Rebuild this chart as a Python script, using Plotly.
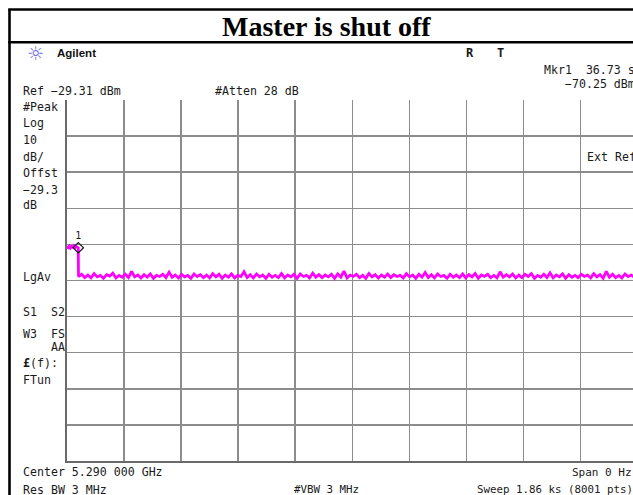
import numpy as np
import plotly.graph_objects as go

# ---------------- data ----------------
sweep_time_s = 1860.0          # Sweep 1.86 ks
ref_level_dbm = -29.31         # Ref level
db_per_div = 10

pre_drop_t = [0, 3.7, 7.4, 11, 14.7, 18.4, 22, 25.7, 29.4, 33, 36.7]
pre_drop_dbm = [-69.9, -70.2, -69.8, -70.3, -69.9, -70.1, -69.7, -70.2, -69.9, -70.1, -70.25]

noise_dbm = [
    -78.2, -77.6, -78.5, -77.8, -78.6, -77.4, -78.3, -77.9, -78.7, -77.7, -78.1, -77.3, -78.6, -77.9, -78.4, -77.6, -78.5, -76.8, -78.3, -77.8,
    -78.6, -77.7, -78.4, -77.5, -78.7, -77.9, -78.2, -77.6, -78.5, -77.0, -78.4, -77.8, -78.6, -77.6, -78.3, -77.9, -78.7, -77.5, -78.2, -77.7,
    -78.5, -77.8, -78.6, -77.4, -78.3, -77.6, -78.7, -77.8, -78.4, -77.5, -78.6, -77.9, -78.2, -76.9, -78.5, -77.7, -78.6, -77.5, -78.3, -77.8,
    -78.7, -77.6, -78.4, -77.9, -78.5, -77.4, -78.6, -77.8, -78.3, -77.6, -78.7, -77.5, -78.2, -77.9, -78.6, -77.3, -78.4, -77.7, -78.5, -77.8,
    -78.3, -77.6, -78.7, -77.5, -78.4, -76.7, -78.6, -77.8, -78.2, -77.6, -78.5, -77.9, -78.7, -77.4, -78.3, -77.7, -78.6, -77.8, -78.4, -77.5,
    -78.5, -77.7, -78.2, -77.9, -78.6, -77.4, -78.3, -77.8, -78.7, -77.6, -78.4, -77.1, -78.5, -77.7, -78.6, -77.5, -78.2, -77.9, -78.7, -77.6,
    -78.4, -77.8, -78.5, -77.5, -78.6, -77.7, -78.3, -77.4, -78.7, -77.8, -78.2, -77.6, -78.5, -77.9, -78.6, -76.9, -78.4, -77.7, -78.3, -77.5,
    -78.6, -77.8, -78.5, -77.6, -78.2, -77.4, -78.7, -77.9, -78.4, -77.6, -78.5, -77.2, -78.6, -77.8, -78.3, -77.5, -78.7, -77.7, -78.4, -77.9,
    -78.5, -77.6, -78.2, -77.8, -78.6, -77.4, -78.3, -77.7, -78.7, -76.8, -78.4, -77.6, -78.5, -77.9, -78.6, -77.5, -78.2, -77.8, -78.4, -77.6,
]
noise_t = np.linspace(37.5, sweep_time_s, len(noise_dbm))

marker_t = [36.73]
marker_dbm = [-70.25]
marker_label = ["1"]

# ---------------- figure ----------------
W, H = 633, 495
L, T, B = 67, 100, 34
PW, PH = W - L, H - T - B

def px(x):
    return (x - L) / PW

def py(y):
    return (H - B - y) / PH

t_all = list(pre_drop_t) + list(noise_t)
v_all = list(pre_drop_dbm) + list(noise_dbm)

fig = go.Figure()
fig.add_trace(go.Scatter(
    x=t_all, y=v_all, mode="lines",
    line=dict(color="#ff00ff", width=2.8),
    hoverinfo="skip", showlegend=False,
))
fig.add_trace(go.Scatter(
    x=marker_t, y=marker_dbm, mode="markers+text",
    text=marker_label, textposition="top center",
    textfont=dict(family="DejaVu Sans Mono", size=10, color="#1a1a1a"),
    marker=dict(symbol="diamond-open", size=8, color="#1a1a1a", line=dict(width=1.2)),
    hoverinfo="skip", showlegend=False,
))

x_end = sweep_time_s * PW / 570.5
fig.update_xaxes(
    range=[0, x_end], tick0=0, dtick=sweep_time_s / 10,
    showgrid=True, gridcolor="#8c8c8c", gridwidth=1.5,
    showticklabels=False, ticks="", zeroline=False,
    showline=True, linecolor="#6a6a6a", linewidth=2, mirror=False,
)
fig.update_yaxes(
    range=[ref_level_dbm - 10 * db_per_div, ref_level_dbm], tick0=ref_level_dbm, dtick=db_per_div,
    showgrid=True, gridcolor="#8c8c8c", gridwidth=1.5,
    showticklabels=False, ticks="", zeroline=False,
    showline=True, linecolor="#6a6a6a", linewidth=2, mirror=False,
)

MONO = "DejaVu Sans Mono"
TXT = "#1a1a1a"
ann = []

def label(text, x, y, anchor="left", size=11.6, family=MONO, color=TXT):
    ann.append(dict(
        text=text, x=px(x), y=py(y), xref="paper", yref="paper",
        xanchor=anchor, yanchor="middle", showarrow=False,
        font=dict(family=family, size=size, color=color),
        borderpad=0, borderwidth=0,
    ))

# title
label("<b>Master is shut off</b>", 326, 27, anchor="center", size=28,
      family="Liberation Serif", color="#000000")

# header
label("☼", 35, 53, anchor="center", size=19, family="DejaVu Sans", color="#6b6be0")
label("<b>Agilent</b>", 57, 53, size=11.5, family="Liberation Sans", color="#111111")
label("<b>R</b>", 466, 53, size=12)
label("<b>T</b>", 497, 53, size=12)
label("Mkr1  36.73 s", 544, 70)
label("−70.25 dBm", 565, 84)
label("Ref −29.31 dBm", 23, 91)
label("#Atten 28 dB", 215, 91)
label("Ext Ref", 587, 157)

# left column
left_rows = [
    ("#Peak", 107), ("Log", 123), ("10", 140), ("dB/", 157), ("Offst", 173),
    ("−29.3", 190), ("dB", 205), ("LgAv", 277), ("S1  S2", 312), ("W3  FS", 334),
    ("<b>£</b>(f):", 363), ("FTun", 380),
]
for txt, yy in left_rows:
    label(txt, 23, yy)
label("AA", 64.5, 347, anchor="right")

# footer
label("Center 5.290 000 GHz", 23, 472)
label("Res BW 3 MHz", 23, 490)
label("Span 0 Hz", 632, 472, anchor="right", size=11.0)
label("#VBW 3 MHz", 294, 490, size=10.8)
label("Sweep 1.86 ks (8001 pts)", 477, 490, size=10.8)

# outer frame lines (black)
shapes = [
    dict(type="line", xref="paper", yref="paper", x0=px(9.5), x1=px(9.5), y0=py(9.5), y1=py(510),
         line=dict(color="#000000", width=2.6)),
    dict(type="line", xref="paper", yref="paper", x0=px(8.2), x1=px(650), y0=py(9.5), y1=py(9.5),
         line=dict(color="#000000", width=2.6)),
    dict(type="line", xref="paper", yref="paper", x0=px(8.2), x1=px(650), y0=py(42.2), y1=py(42.2),
         line=dict(color="#000000", width=2.6)),
]

fig.update_layout(
    width=W, height=H,
    margin=dict(l=L, r=0, t=T, b=B, pad=0, autoexpand=False),
    paper_bgcolor="#ffffff", plot_bgcolor="#ffffff",
    annotations=ann, shapes=shapes,
    showlegend=False, hovermode=False,
)

fig.write_html(
    "out.html",
    config={"displayModeBar": False, "staticPlot": True},
    post_script=(
        "document.body.style.margin='0px';"
        "document.body.style.overflow='hidden';"
        "document.documentElement.style.overflow='hidden';"
    ),
)
